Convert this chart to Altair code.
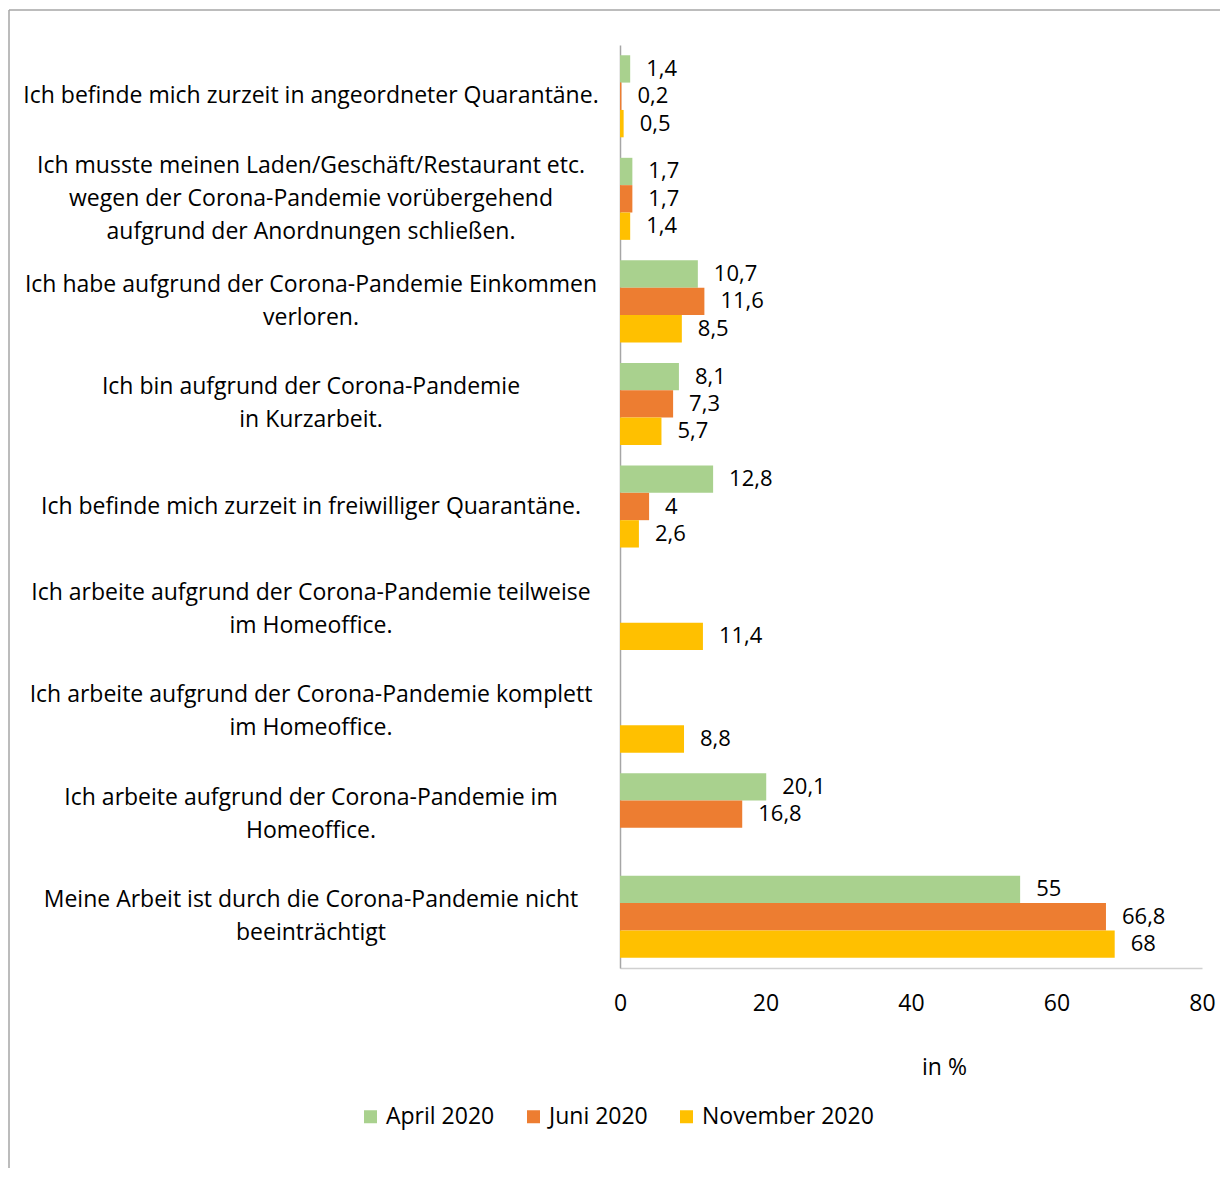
import altair as alt
import pandas as pd

categories = [
    "Ich befinde mich zurzeit in angeordneter Quarantäne.",
    "Ich musste meinen Laden/Geschäft/Restaurant etc.|wegen der Corona-Pandemie vorübergehend|aufgrund der Anordnungen schließen.",
    "Ich habe aufgrund der Corona-Pandemie Einkommen|verloren.",
    "Ich bin aufgrund der Corona-Pandemie|in Kurzarbeit.",
    "Ich befinde mich zurzeit in freiwilliger Quarantäne.",
    "Ich arbeite aufgrund der Corona-Pandemie teilweise|im Homeoffice.",
    "Ich arbeite aufgrund der Corona-Pandemie komplett|im Homeoffice.",
    "Ich arbeite aufgrund der Corona-Pandemie im|Homeoffice.",
    "Meine Arbeit ist durch die Corona-Pandemie nicht|beeinträchtigt",
]
series = ["April 2020", "Juni 2020", "November 2020"]
april = [1.4, 1.7, 10.7, 8.1, 12.8, None, None, 20.1, 55]
juni = [0.2, 1.7, 11.6, 7.3, 4, None, None, 16.8, 66.8]
november = [0.5, 1.4, 8.5, 5.7, 2.6, 11.4, 8.8, None, 68]
colors = ["#A9D18E", "#ED7D31", "#FFC000"]
x_ticks = [0, 20, 40, 60, 80]

rows = []
for s, vals in zip(series, [april, juni, november]):
    for c, v in zip(categories, vals):
        if v is not None:
            rows.append({"Kategorie": c, "Serie": s, "Wert": v})
df = pd.DataFrame(rows)
cat_df = pd.DataFrame({"Kategorie": categories})

FONT = "Open Sans"
FS = 23
VFS = 22

y_enc = alt.Y(
    "Kategorie:N",
    sort=categories,
    scale=alt.Scale(domain=categories, paddingInner=0.2, paddingOuter=0.1),
    axis=alt.Axis(
        title=None,
        ticks=False,
        labels=False,
        domainColor="#A6A6A6",
        domainWidth=1.5,
    ),
)

base = alt.Chart(df).encode(
    y=y_enc,
    yOffset=alt.YOffset("Serie:N", sort=series, scale=alt.Scale(domain=series)),
    x=alt.X(
        "Wert:Q",
        scale=alt.Scale(domain=[0, 80], nice=False),
        axis=alt.Axis(
            values=x_ticks,
            grid=False,
            ticks=False,
            domainColor="#D0D0D0",
            domainWidth=1.5,
            labelFontSize=FS,
            labelFont=FONT,
            labelColor="#000000",
            labelPadding=24,
            labelFlush=False,
            title="in %",
            titleFont=FONT,
            titleFontSize=FS,
            titleFontWeight="normal",
            titleColor="#000000",
            titleX=324,
            titleY=99,
            titleBaseline="middle",
            titleAlign="center",
        ),
    ),
)

bars = base.mark_bar().encode(
    color=alt.Color(
        "Serie:N",
        sort=series,
        scale=alt.Scale(domain=series, range=colors),
        legend=alt.Legend(
            title=None,
            orient="none",
            direction="horizontal",
            legendX=-261,
            legendY=1060,
            symbolType="square",
            symbolSize=169,
            symbolStrokeWidth=0,
            labelFont=FONT,
            labelFontSize=FS,
            labelColor="#000000",
            labelLimit=0,
            labelOffset=4,
            columnPadding=27,
        ),
    )
)

values = base.transform_calculate(
    txt="replace(toString(datum.Wert), '.', ',')"
).mark_text(align="left", baseline="middle", dx=16, font=FONT, fontSize=VFS, color="#000000").encode(
    text="txt:N"
)

cat_labels = alt.Chart(cat_df).transform_calculate(
    lines="split(datum.Kategorie, '|')"
).mark_text(
    align="center",
    baseline="middle",
    font=FONT,
    fontSize=FS,
    lineHeight=33,
    color="#000000",
    dy=alt.ExprRef("-(length(split(datum.Kategorie, '|')) - 1) * 16.5"),
).encode(
    y=y_enc,
    x=alt.value(-309),
    text="lines:N",
)

border_top = alt.Chart(pd.DataFrame({"a": [0]})).mark_rule(color="#A6A6A6", strokeWidth=1.5).encode(
    x=alt.value(-611), x2=alt.value(600), y=alt.value(-35)
)
border_left = alt.Chart(pd.DataFrame({"a": [0]})).mark_rule(color="#A6A6A6", strokeWidth=1.5).encode(
    x=alt.value(-611), y=alt.value(-35), y2=alt.value(1123)
)

chart = alt.layer(bars, values, cat_labels, border_top, border_left).properties(
    width=582,
    height=923,
    padding={"left": 0, "top": 1, "right": 0, "bottom": 0},
).configure_view(stroke=None)

chart.save("out.html", embed_options={"renderer": "svg", "actions": False})
